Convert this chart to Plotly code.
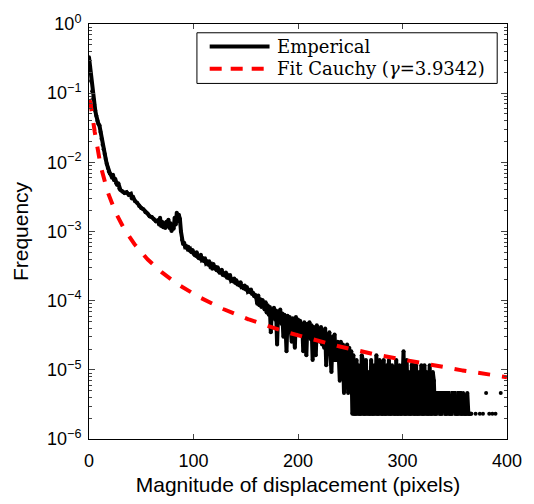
import numpy as np
import plotly.graph_objects as go

# Empirical histogram of displacement magnitudes.
# Head: normalised frequency read at selected displacements (pixels).
HEAD_X = ([0, 1, 2, 3, 4, 5, 6, 7, 8, 9, 10, 11, 12, 13, 14, 15, 16, 17, 18, 19,
           20, 21, 22, 23, 24, 25, 26, 27, 28, 29, 30, 32, 34, 36, 38, 40, 41, 42,
           44, 46, 48, 50, 52, 54, 56, 58, 60, 62, 64, 66, 67, 68, 69, 70, 71, 72,
           73, 74, 75, 76, 77, 78, 79, 80, 81, 82, 83, 84, 85, 86, 87, 88, 89]
          + list(range(90, 160)))
HEAD_FREQ = [0.33, 0.24, 0.15, 0.107, 0.083, 0.068, 0.056, 0.047, 0.040, 0.036,
             0.034, 0.0275, 0.022, 0.018, 0.0155, 0.0132, 0.0112, 0.0095, 0.0083,
             0.0074, 0.0069, 0.0066, 0.0060, 0.0066, 0.0055, 0.0058, 0.0050,
             0.0047, 0.0050, 0.0042, 0.0040, 0.0038, 0.0036, 0.0037, 0.0034,
             0.0035, 0.0030, 0.0032, 0.00275, 0.0026, 0.00234, 0.00219, 0.0021,
             0.0019, 0.00182, 0.00166, 0.00162, 0.00151, 0.00141, 0.00145,
             0.00126, 0.00158, 0.0012, 0.00138, 0.00115, 0.00132, 0.00112,
             0.00138, 0.0012, 0.00148, 0.00112, 0.00132, 0.00102, 0.00126,
             0.0011, 0.00158, 0.00126, 0.00186, 0.00141, 0.00174, 0.00151,
             0.0010, 0.00076,
             # 90..159
             6.6e-4, 6.9e-4, 6.0e-4, 6.1e-4, 5.7e-4, 6.0e-4, 5.3e-4, 5.5e-4, 5.0e-4, 5.4e-4,
             4.8e-4, 4.6e-4, 4.5e-4, 5.0e-4, 4.3e-4, 4.1e-4, 4.1e-4, 4.6e-4, 3.9e-4, 4.0e-4,
             3.7e-4, 4.1e-4, 3.5e-4, 3.6e-4, 3.3e-4, 3.7e-4, 3.2e-4, 3.3e-4, 2.9e-4, 3.4e-4,
             2.95e-4, 3.1e-4, 2.75e-4, 3.05e-4, 2.65e-4, 2.55e-4, 2.55e-4, 2.8e-4, 2.35e-4, 2.5e-4,
             2.3e-4, 2.55e-4, 2.15e-4, 2.25e-4, 2.1e-4, 2.35e-4, 1.95e-4, 2.0e-4, 1.9e-4, 2.1e-4,
             1.8e-4, 1.98e-4, 1.72e-4, 1.8e-4, 1.65e-4, 1.85e-4, 1.58e-4, 1.6e-4, 1.5e-4, 1.65e-4,
             1.45e-4, 1.58e-4, 1.36e-4, 1.4e-4, 1.32e-4, 1.45e-4, 1.25e-4, 1.3e-4, 1.16e-4, 1.22e-4]

# Tail: raw bin counts for displacements 160..394 (one bin per pixel).
TAIL_START = 160
TAIL_COUNTS = [
    48, 39, 51, 37, 45, 35, 44, 40, 32, 41,   # 160
    29, 37, 27, 35, 15, 32, 25, 34, 23, 31,   # 170
    10, 30, 21, 32, 20, 28, 13, 27, 19, 8,    # 180
    26, 18, 25, 17, 11, 24, 16, 9, 25, 17,    # 190
    23, 15, 22, 14, 20, 8, 21, 13, 7, 20,     # 200
    15, 21, 12, 19, 6, 18, 11, 7, 19, 13,     # 210
    17, 11, 18, 10, 16, 9, 17, 5, 14, 9,      # 220
    15, 8, 4, 13, 7, 14, 6, 6, 11, 7,         # 230
    3, 11, 6, 10, 2, 9, 5, 10, 2, 9,          # 240
    5, 8, 1, 7, 1, 1, 6, 1, 5, 1,             # 250
    1, 7, 6, 1, 1, 6, 1, 4, 1, 1,             # 260
    6, 1, 1, 5, 1, 7, 1, 1, 6, 5,             # 270
    1, 1, 6, 1, 1, 5, 1, 6, 1, 1,             # 280
    5, 4, 1, 1, 6, 1, 1, 5, 1, 1,             # 290
    5, 8, 1, 1, 6, 1, 4, 1, 1, 5,             # 300
    5, 1, 1, 5, 1, 1, 4, 1, 5, 1,             # 310
    1, 5, 1, 4, 1, 1, 5, 1, 1, 4,             # 320
    3, 1, 1, 2, 2, 2, 1, 1, 2, 2,             # 330
    2, 1, 1, 2, 2, 1, 1, 1, 2, 2,             # 340
    2, 1, 1, 1, 2, 2, 1, 1, 2, 1,             # 350
    1, 1, 2, 1, 1, 1, 1, 0, 0, 0,             # 360
    1, 0, 0, 0, 1, 0, 0, 1, 0, 0,             # 370
    2, 0, 0, 1, 0, 0, 1, 0, 0, 1,             # 380
    0, 0, 0, 0, 2,                            # 390
]
TOTAL_SAMPLES = 431000

# Fitted Cauchy scale parameter
GAMMA = 3.9342

X_TICKS = [0, 100, 200, 300, 400]
Y_TICKS = [1e-6, 1e-5, 1e-4, 1e-3, 1e-2, 1e-1, 1e0]
Y_TICK_TEXT = ["10<sup>\u22126</sup>", "10<sup>\u22125</sup>", "10<sup>\u22124</sup>",
               "10<sup>\u22123</sup>", "10<sup>\u22122</sup>", "10<sup>\u22121</sup>",
               "10<sup>0</sup>"]

# Assemble the empirical series (empty bins leave gaps on the log axis)
tail_x = [TAIL_START + i for i in range(len(TAIL_COUNTS))]
tail_y = [c / TOTAL_SAMPLES if c > 0 else None for c in TAIL_COUNTS]
emp_x = HEAD_X + tail_x
emp_y = HEAD_FREQ + tail_y

# Cauchy density with the fitted scale
fit_x = np.linspace(0, 400, 801)
fit_y = 1.0 / (np.pi * GAMMA * (1.0 + (fit_x / GAMMA) ** 2))

fig = go.Figure()
fig.add_trace(go.Scatter(
    x=emp_x, y=emp_y, mode="lines+markers", name="Emperical",
    line=dict(color="black", width=4), marker=dict(color="black", size=4),
    connectgaps=False, showlegend=False,
))
fig.add_trace(go.Scatter(
    x=fit_x, y=fit_y, mode="lines", name="Fit Cauchy (\u03b3=3.9342)",
    line=dict(color="#ff0000", width=4, dash="12px,12px"), showlegend=False,
))

# Plot area geometry (pixels) used to place the boxed legend
L, R, T, B = 89, 515, 21, 447


def px(xp, yp):
    return (xp - L) / (R - L), (B - yp) / (B - T)


shapes = []
x0, y0 = px(199, 30)
x1, y1 = px(505, 82)
shapes.append(dict(type="rect", xref="paper", yref="paper", x0=x0, y0=y0, x1=x1, y1=y1,
                   line=dict(color="black", width=1), fillcolor="white", layer="above"))
la, ya = px(212, 44)
lb, _ = px(273, 44)
shapes.append(dict(type="line", xref="paper", yref="paper", x0=la, x1=lb, y0=ya, y1=ya,
                   line=dict(color="black", width=4), layer="above"))
_, yb = px(212, 67)
shapes.append(dict(type="line", xref="paper", yref="paper", x0=la, x1=lb, y0=yb, y1=yb,
                   line=dict(color="#ff0000", width=4, dash="12px,9px"), layer="above"))
tx, _ = px(279, 0)
legend_font = dict(family="DejaVu Serif", size=18, color="black")
annotations = [
    dict(xref="paper", yref="paper", x=tx, y=ya, xanchor="left", yanchor="middle",
         text="Emperical", showarrow=False, font=legend_font),
    dict(xref="paper", yref="paper", x=tx, y=yb, xanchor="left", yanchor="middle",
         text="Fit Cauchy (<i>\u03b3</i>=3.9342)", showarrow=False, font=legend_font),
]

axis_font = dict(family="Liberation Sans", size=18, color="black")
title_font = dict(family="Liberation Sans", size=21, color="black")
fig.update_layout(
    width=534, height=504,
    margin=dict(l=L, r=534 - R, t=T, b=504 - B),
    paper_bgcolor="white", plot_bgcolor="white",
    shapes=shapes, annotations=annotations,
    xaxis=dict(
        range=[0, 400], tickvals=X_TICKS, ticks="inside", ticklen=5,
        showline=True, linecolor="black", linewidth=1, mirror="ticks",
        showgrid=False, zeroline=False, tickfont=axis_font, ticklabelstandoff=5,
        title=dict(text="Magnitude of displacement (pixels)", font=title_font,
                   standoff=7),
    ),
    yaxis=dict(
        type="log", range=[-6, 0], tickvals=Y_TICKS, ticktext=Y_TICK_TEXT,
        ticks="inside", ticklen=6, showline=True, linecolor="black", linewidth=1,
        mirror="ticks", showgrid=False, zeroline=False, tickfont=axis_font,
        ticklabelstandoff=3,
        minor=dict(ticks="inside", ticklen=3, dtick="D1", showgrid=False),
        title=dict(text="Frequency", font=title_font, standoff=12),
    ),
)

fig.write_html("out.html")
